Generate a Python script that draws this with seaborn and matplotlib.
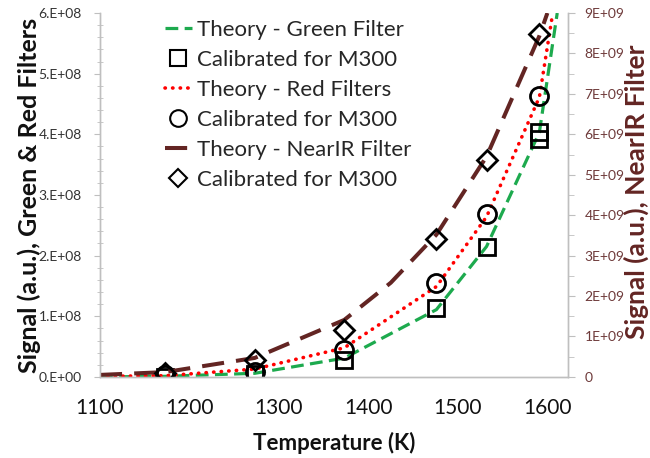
import matplotlib
matplotlib.use("Agg")
import matplotlib.pyplot as plt
import seaborn as sns
from matplotlib.ticker import MultipleLocator, FuncFormatter
from matplotlib.lines import Line2D

# ---------------- data ----------------
green_theory_T = [1100, 1173, 1273, 1373, 1476, 1532, 1591, 1611]
green_theory = [0.0, 0.01e8, 0.06e8, 0.31e8, 1.11e8, 2.15e8, 4.03e8, 6.0e8]

red_theory_T = [1100, 1173, 1273, 1373, 1476, 1532, 1591, 1606]
red_theory = [0.01e8, 0.02e8, 0.13e8, 0.48e8, 1.49e8, 2.64e8, 4.61e8, 6.0e8]

nir_theory_T = [1100, 1173, 1273, 1373, 1425, 1476, 1532, 1591, 1600]
nir_theory = [0.05e9, 0.12e9, 0.47e9, 1.41e9, 2.33e9, 3.52e9, 5.45e9, 8.43e9, 9.0e9]

green_cal_T = [1173, 1273, 1373, 1476, 1532, 1591, 1591]
green_cal = [0.0, 0.05e8, 0.28e8, 1.14e8, 2.15e8, 3.93e8, 4.03e8]

red_cal_T = [1173, 1273, 1373, 1476, 1532, 1591]
red_cal = [0.03e8, 0.08e8, 0.45e8, 1.55e8, 2.68e8, 4.63e8]

nir_cal_T = [1173, 1273, 1373, 1476, 1532, 1591]
nir_cal = [0.10e9, 0.42e9, 1.17e9, 3.40e9, 5.36e9, 8.48e9]

labels = ["Theory - Green Filter", "Calibrated for M300",
          "Theory - Red Filters", "Calibrated for M300",
          "Theory - NearIR Filter", "Calibrated for M300"]

GREEN = "#1DAA4E"
RED = "#FF0000"
BROWN = "#632523"
TICKBROWN = "#6E3A3A"
SPINE = "#BFBFBF"

sns.set_style("white")
plt.rcParams["font.family"] = ["Lato", "DejaVu Sans"]

fig = plt.figure(figsize=(6.5, 4.58), dpi=100)
ax = fig.add_axes([0.1538, 0.177, 0.72, 0.7946])
ax2 = ax.twinx()

green_ls = (0, (4, 2))
red_ls = (0, (0.1, 2.0))
brown_ls = (0, (5.5, 3))

sns.lineplot(x=green_theory_T, y=green_theory, ax=ax, color=GREEN, lw=2.3,
             linestyle=green_ls, estimator=None, sort=False)
sns.lineplot(x=red_theory_T, y=red_theory, ax=ax, color=RED, lw=2.6,
             linestyle=red_ls, dash_capstyle="round", estimator=None, sort=False)
sns.lineplot(x=nir_theory_T, y=nir_theory, ax=ax2, color=BROWN, lw=2.9,
             linestyle=brown_ls, estimator=None, sort=False)

mk = dict(linestyle="", markerfacecolor="none", markeredgecolor="black",
          markeredgewidth=2.0, color="black", estimator=None, sort=False)
sns.lineplot(x=green_cal_T, y=green_cal, ax=ax, marker="s", markersize=12, **mk)
sns.lineplot(x=red_cal_T, y=red_cal, ax=ax, marker="o", markersize=13, **mk)
sns.lineplot(x=nir_cal_T, y=nir_cal, ax=ax2, marker="D", markersize=10, **mk)

# ---------------- axes ----------------
ax.set_xlim(1100, 1623)
ax.set_ylim(0, 6e8)
ax2.set_ylim(0, 9e9)

ax.xaxis.set_major_locator(MultipleLocator(100))
ax.xaxis.set_minor_locator(MultipleLocator(10))
ax.yaxis.set_major_locator(MultipleLocator(1e8))
ax.yaxis.set_minor_locator(MultipleLocator(2e7))
ax2.yaxis.set_major_locator(MultipleLocator(1e9))
ax2.yaxis.set_minor_locator(MultipleLocator(5e8))

ax.yaxis.set_major_formatter(FuncFormatter(
    lambda v, p: "0.E+00" if v == 0 else f"{v/1e8:.0f}.E+08"))
ax2.yaxis.set_major_formatter(FuncFormatter(
    lambda v, p: "0" if v == 0 else f"{v/1e9:.0f}E+09"))

for a in (ax, ax2):
    for s in a.spines.values():
        s.set_color(SPINE)
        s.set_linewidth(1.0)
    a.spines["top"].set_visible(False)

ax.tick_params(axis="x", which="major", direction="inout", length=14,
               color=SPINE, labelsize=15, pad=8, labelcolor="#111111")
ax.tick_params(axis="x", which="minor", direction="out", length=5, color=SPINE)
ax.tick_params(axis="y", which="major", direction="out", length=4,
               color=SPINE, labelsize=10, pad=9, labelcolor="#333333")
ax.tick_params(axis="y", which="minor", direction="inout", length=5, color=SPINE)
ax2.tick_params(axis="y", which="major", direction="out", length=5,
                color=SPINE, labelsize=10, pad=7, labelcolor=TICKBROWN)
ax2.tick_params(axis="y", which="minor", direction="out", length=4, color=SPINE)

ax.set_xlabel("Temperature (K)", fontsize=16, fontweight="bold", color="#111111")
ax.xaxis.set_label_coords(0.5, -0.15)
ax.set_ylabel("Signal (a.u.), Green & Red Filters", fontsize=18,
              fontweight="bold", color="#111111", va="center")
ax.yaxis.set_label_coords(-0.151, 0.5)
ax2.set_ylabel("Signal (a.u.), NearIR Filter", fontsize=19,
               fontweight="bold", color=BROWN, va="center", rotation=90)
ax2.yaxis.set_label_coords(1.146, 0.51)

# ---------------- legend ----------------
handles = [
    Line2D([], [], color=GREEN, lw=2.3, linestyle=green_ls),
    Line2D([], [], linestyle="", marker="s", markersize=11, markerfacecolor="none",
           markeredgecolor="black", markeredgewidth=1.5),
    Line2D([], [], color=RED, lw=2.6, linestyle=red_ls, dash_capstyle="round"),
    Line2D([], [], linestyle="", marker="o", markersize=12, markerfacecolor="none",
           markeredgecolor="black", markeredgewidth=1.5),
    Line2D([], [], color=BROWN, lw=2.9, linestyle=brown_ls),
    Line2D([], [], linestyle="", marker="D", markersize=9, markerfacecolor="none",
           markeredgecolor="black", markeredgewidth=1.5),
]
leg = ax2.legend(handles, labels, loc="upper left", bbox_to_anchor=(0.139, 0.981),
                 frameon=False, fontsize=16, handlelength=1.2, handletextpad=0.25,
                 labelspacing=0.45, borderpad=0, borderaxespad=0)

fig.savefig("out.png", dpi=100)
